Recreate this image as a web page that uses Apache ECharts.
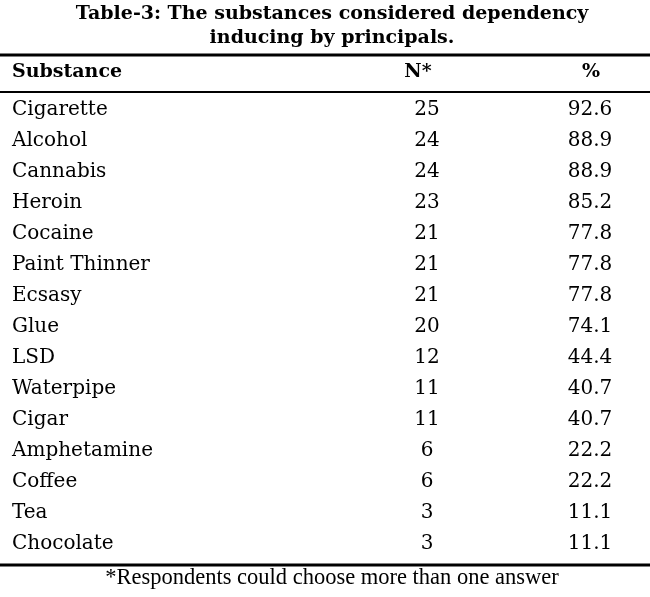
<!DOCTYPE html>
<html lang="en">
<head>
    <meta charset="UTF-8">
    <title>Table-3</title>
    <script src="https://cdn.jsdelivr.net/npm/echarts@6/dist/echarts.min.js"></script>
</head>
<body style="margin:0;background:#fff">
<div id="box" style="width: 650px;height: 597px;"></div>
<script>
    // table contents
    var substances = ['Cigarette', 'Alcohol', 'Cannabis', 'Heroin', 'Cocaine', 'Paint Thinner', 'Ecsasy',
        'Glue', 'LSD', 'Waterpipe', 'Cigar', 'Amphetamine', 'Coffee', 'Tea', 'Chocolate'];
    var counts = [25, 24, 24, 23, 21, 21, 21, 20, 12, 11, 11, 6, 6, 3, 3];
    var percents = [92.6, 88.9, 88.9, 85.2, 77.8, 77.8, 77.8, 74.1, 44.4, 40.7, 40.7, 22.2, 22.2, 11.1, 11.1];
    var columns = ['N*', '%'];

    var serif = 'DejaVu Serif';
    var myChart = echarts.init(document.getElementById('box'));

    var cellLabel = {
        show: true, position: 'inside', color: '#000', opacity: 1,
        fontFamily: serif, fontSize: 20
    };
    var headStyle = {fontFamily: serif, fontWeight: 'bold', fontSize: 19, color: '#000'};

    var option = {
        animation: false,
        backgroundColor: '#fff',
        title: [{
            text: 'Table-3: The substances considered dependency\ninducing by principals.',
            left: 332,
            top: 2,
            padding: 0,
            textAlign: 'center',
            textStyle: {fontFamily: serif, fontWeight: 'bold', fontSize: 19, lineHeight: 24, color: '#000'}
        }, {
            text: 'Substance',
            left: 7,
            top: 58,
            textStyle: headStyle
        }, {
            text: '*Respondents could choose more than one answer',
            left: 332,
            top: 567,
            padding: 0,
            textAlign: 'center',
            textStyle: {fontFamily: 'Liberation Serif', fontWeight: 'normal', fontSize: 22.5, color: '#000'}
        }],
        grid: {left: 427, right: 60, top: 94.5, bottom: 37.5},
        xAxis: {
            type: 'category',
            data: columns,
            position: 'top',
            boundaryGap: false,
            axisLine: {show: false},
            axisTick: {show: false},
            splitLine: {show: false},
            axisLabel: {
                margin: 22.5, verticalAlign: 'middle',
                formatter: function (v) { return v === 'N*' ? '{n|' + v + '}' : '{p|' + v + '}'; },
                rich: {
                    n: Object.assign({padding: [0, 18, 0, 0]}, headStyle),
                    p: Object.assign({padding: [0, 0, 0, 2]}, headStyle)
                }
            }
        },
        yAxis: {
            type: 'category',
            data: substances,
            inverse: true,
            axisLine: {show: false},
            axisTick: {show: false},
            splitLine: {show: false},
            axisLabel: {
                align: 'left', margin: 415, color: '#000',
                fontFamily: serif, fontSize: 20
            }
        },
        series: [{
            type: 'scatter',
            symbolSize: 0,
            itemStyle: {opacity: 1},
            data: counts.map(function (v, i) { return ['N*', substances[i], v]; }),
            label: Object.assign({}, cellLabel, {
                formatter: function (p) { return p.value[2]; }
            })
        }, {
            type: 'scatter',
            symbolSize: 0,
            itemStyle: {opacity: 1},
            data: percents.map(function (v, i) { return ['%', substances[i], v]; }),
            label: Object.assign({}, cellLabel, {
                formatter: function (p) { return p.value[2].toFixed(1); }
            })
        }],
        graphic: [
            {type: 'line', shape: {x1: 0, y1: 55, x2: 650, y2: 55}, style: {stroke: '#000', lineWidth: 3}},
            {type: 'line', shape: {x1: 0, y1: 92, x2: 650, y2: 92}, style: {stroke: '#000', lineWidth: 2}},
            {type: 'line', shape: {x1: 0, y1: 565, x2: 650, y2: 565}, style: {stroke: '#000', lineWidth: 3}}
        ]
    };
    myChart.setOption(option);
</script>
</body>
</html>
